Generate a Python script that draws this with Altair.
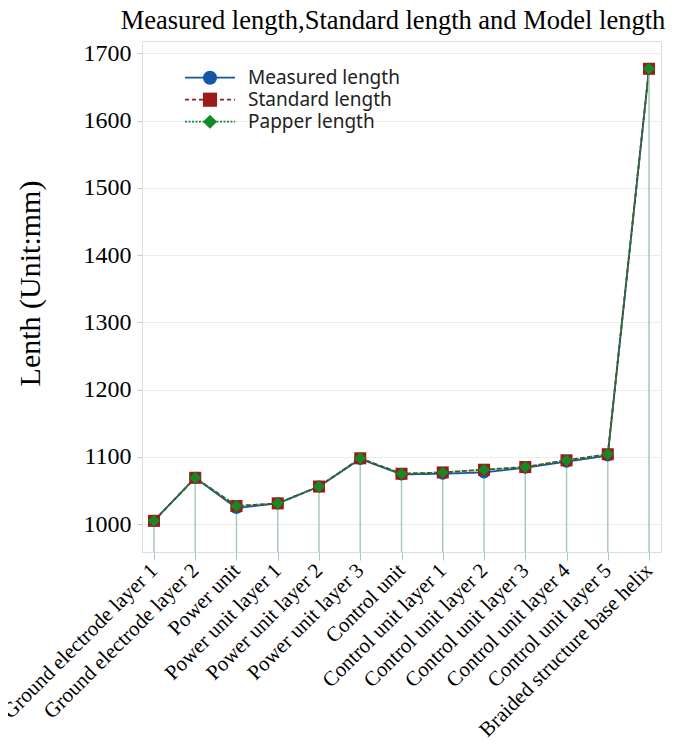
import altair as alt
import pandas as pd

title_text = "Measured length,Standard length and Model length"
categories = [
    "Ground electrode layer 1", "Ground electrode layer 2", "Power unit",
    "Power unit layer 1", "Power unit layer 2", "Power unit layer 3",
    "Control unit", "Control unit layer 1", "Control unit layer 2",
    "Control unit layer 3", "Control unit layer 4", "Control unit layer 5",
    "Braided structure base helix",
]
measured = [1005, 1069, 1024, 1031, 1056, 1097, 1074, 1075, 1077, 1084, 1093, 1102, 1677]
standard = [1005, 1069, 1027, 1031, 1056, 1098, 1075, 1077, 1081, 1085, 1095, 1104, 1677]
papper = [1005, 1069, 1027, 1031, 1056, 1098, 1075, 1077, 1081, 1085, 1095, 1104, 1677]
series_names = ["Measured length", "Standard length", "Papper length"]
series_values = [measured, standard, papper]

rows = []
for s_i, (name, vals) in enumerate(zip(series_names, series_values)):
    for c_i, (cat, v) in enumerate(zip(categories, vals)):
        rows.append({"category": cat, "series": name, "value": v, "sorder": s_i})
df = pd.DataFrame(rows)
drop_df = pd.DataFrame({"category": categories, "value": measured})
legend_df = pd.DataFrame({"series": series_names, "row": list(range(len(series_names)))})
title_df = pd.DataFrame({"t": [title_text]})

W, H = 519, 511
colors = ["#1456a8", "#9b1b1b", "#138a25"]
dashes = [[1, 0], [4, 3], [2, 1.5]]
shapes = ["circle", "square", "diamond"]
SERIF = "Liberation Serif"

color_enc = alt.Color("series:N", scale=alt.Scale(domain=series_names, range=colors), legend=None)
dash_enc = alt.StrokeDash("series:N", scale=alt.Scale(domain=series_names, range=dashes), legend=None)
shape_enc = alt.Shape("series:N", scale=alt.Scale(domain=series_names, range=shapes), legend=None)

x_enc = alt.X(
    "category:N", sort=categories,
    scale=alt.Scale(type="point", padding=0.29),
    axis=alt.Axis(
        title=None, labelAngle=-45, labelAlign="right", labelBaseline="middle",
        labelFont=SERIF, labelFontSize=21, labelColor="#000", labelPadding=7,
        tickColor="#a9c9bd", tickSize=8, domain=False, gridColor="#ececec",
        labelLimit=400,
    ),
)
y_scale = alt.Scale(domain=[958.7, 1718.3], nice=False, zero=False)
y_enc = alt.Y(
    "value:Q",
    scale=y_scale,
    axis=alt.Axis(
        title="Lenth (Unit:mm)", values=[1000, 1100, 1200, 1300, 1400, 1500, 1600, 1700],
        format="d",
        labelFont=SERIF, labelFontSize=24, labelColor="#000", labelPadding=6,
        tickColor="#c8c8c8", tickSize=5, domain=False, gridColor="#ececec",
        titleFont=SERIF, titleFontSize=30, titleFontWeight="normal", titleColor="#000",
        titleX=-112, titleY=242, titleAlign="center", titleBaseline="middle", titleAngle=-90,
    ),
)

drops = alt.Chart(drop_df).mark_rule(color="#a9c9bd", strokeWidth=1.5).encode(
    x=alt.X("category:N", sort=categories), y=alt.Y("value:Q", scale=y_scale), y2=alt.value(H)
)
lines = alt.Chart(df).mark_line(strokeWidth=1.8).encode(
    x=x_enc, y=y_enc, color=color_enc, strokeDash=dash_enc, order=alt.Order("sorder:Q")
)
points = alt.Chart(df).mark_point(filled=True, opacity=1, size=145).encode(
    x=alt.X("category:N", sort=categories), y=alt.Y("value:Q", scale=y_scale),
    color=color_enc, shape=shape_enc, order=alt.Order("sorder:Q")
)
main = alt.layer(lines, drops, points)

leg_base = alt.Chart(legend_df).transform_calculate(ly="36.7 + datum.row * 22")
leg_lines = leg_base.mark_rule(strokeWidth=1.8).encode(
    x=alt.value(43), x2=alt.value(93), y=alt.Y("ly:Q", scale=None, axis=None),
    color=color_enc, strokeDash=dash_enc,
)
leg_points = leg_base.mark_point(filled=True, opacity=1, size=200).encode(
    x=alt.value(68), y=alt.Y("ly:Q", scale=None, axis=None), color=color_enc, shape=shape_enc,
)
leg_text = leg_base.mark_text(align="left", baseline="middle", font="Noto Sans", fontSize=19, color="#222").encode(
    x=alt.value(106), y=alt.Y("ly:Q", scale=None, axis=None), text="series:N",
)
title_mark = alt.Chart(title_df).mark_text(
    align="center", baseline="alphabetic", font=SERIF, fontSize=26.5, color="#000"
).encode(x=alt.value(251), y=alt.value(-12), text="t:N")
legend = alt.layer(leg_lines, leg_points, leg_text, title_mark)

chart = alt.layer(main, legend).resolve_scale(
    y="independent"
).properties(
    width=W, height=H,
    autosize=alt.AutoSizeParams(type="none"),
    padding={"left": 134, "top": 33, "right": 16, "bottom": 195},
).configure_view(stroke="#cfcfcf", strokeWidth=1.5).configure(background="white")

chart.save("out.html", embed_options={"renderer": "svg", "actions": False})
